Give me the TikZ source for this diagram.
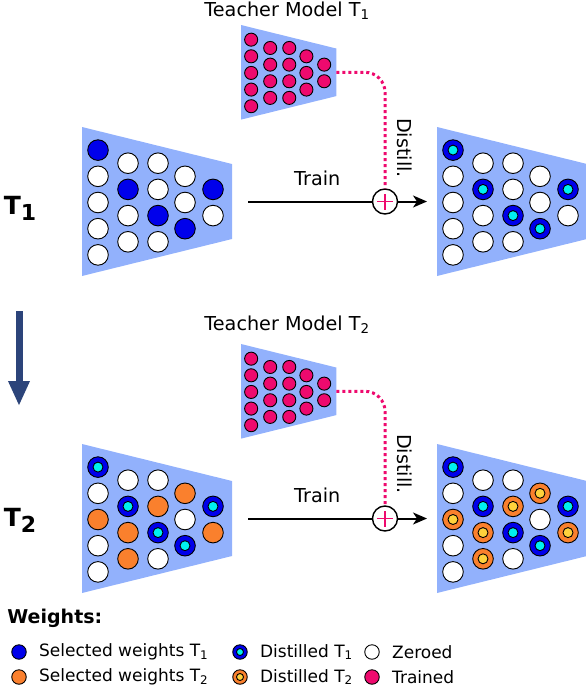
\documentclass[tikz,border=0pt]{standalone}
\usepackage{fontspec}
\setmainfont{DejaVu Sans}
\usetikzlibrary{arrows.meta,positioning}

\definecolor{netfill}{RGB}{146,177,252}
\definecolor{selblue}{RGB}{0,0,235}
\definecolor{selorange}{RGB}{250,128,45}
\definecolor{dcyan}{RGB}{0,240,240}
\definecolor{dyellow}{RGB}{255,210,60}
\definecolor{trainpink}{RGB}{238,10,110}
\definecolor{stepblue}{RGB}{44,68,122}

\tikzset{
  w1/.style={draw=black,fill=selblue},
  w2/.style={draw=black,fill=selorange},
  zero/.style={draw=black,fill=white},
  trained/.style={draw=black,fill=trainpink},
  d1/.style={draw=black,fill=selblue,
    path picture={\draw[fill=dcyan] (path picture bounding box.center) circle (#1);}},
  d1/.default=5,
  d2/.style={draw=black,fill=selorange,
    path picture={\draw[fill=dyellow] (path picture bounding box.center) circle (#1);}},
  d2/.default=5
}

% column x and row offsets of the 18 weights
\def\netx{{16,16,16,16,16,46,46,46,46,76,76,76,76,103,103,103,131,131}}
\def\nety{{-2,-1,0,1,2,-1.5,-0.5,0.5,1.5,-1.5,-0.5,0.5,1.5,-1,0,1,-0.5,0.5}}

\newcommand{\weightnet}[2]{%
  \fill[netfill] (0,0) -- (150,37) -- (150,112) -- (0,149) -- cycle;
  \coordinate (#1-in) at (0,74.5);
  \coordinate (#1-out) at (150,74.5);
  \foreach \s [count=\i from 0] in {#2} {
    \pgfmathsetmacro{\cx}{\netx[\i]}
    \pgfmathsetmacro{\cy}{75.5+26.2*\nety[\i]}
    \draw[\s] (\cx,\cy) circle (10.3);
  }}

\begin{document}
\begin{tikzpicture}[x=1pt,y=-1pt,line width=0.9pt,
  lbl/.style={font=\fontsize{19.2}{21}\selectfont,inner sep=0pt},
  steplbl/.style={font=\fontsize{25}{26}\selectfont\bfseries,inner sep=0pt},
  legtext/.style={font=\fontsize{17}{18}\selectfont,inner sep=0pt,anchor=west},
  leg/.style={circle,minimum size=14.5pt,inner sep=0pt},
  plus/.style={circle,draw,line width=1.4pt,fill=white,minimum size=25pt,inner sep=0pt,
    path picture={\draw[color=trainpink,line width=1.8pt]
      ([xshift=-8pt]path picture bounding box.center) -- ([xshift=8pt]path picture bounding box.center)
      ([yshift=-8pt]path picture bounding box.center) -- ([yshift=8pt]path picture bounding box.center);}},
  train/.style={draw=black,line width=2pt},
  distil/.style={draw=trainpink,line width=3pt,dash pattern=on 3pt off 3pt,rounded corners=20pt},
  steparrow/.style={draw=stepblue,line width=7pt,-{Triangle[length=25pt,width=20pt]}}
]
\useasboundingbox (0,0) rectangle (586,688);

% teachers
\node[lbl] (teach1) at (287,11) {Teacher Model T\textsubscript{1}};
\begin{scope}[shift={(241,25)},scale=0.635]
  \weightnet{t1}{trained,trained,trained,trained,trained,trained,trained,trained,trained,
    trained,trained,trained,trained,trained,trained,trained,trained,trained}
\end{scope}
\node[lbl] (teach2) at (287,325) {Teacher Model T\textsubscript{2}};
\begin{scope}[shift={(241,344)},scale=0.635]
  \weightnet{t2}{trained,trained,trained,trained,trained,trained,trained,trained,trained,
    trained,trained,trained,trained,trained,trained,trained,trained,trained}
\end{scope}

% task 1
\begin{scope}[shift={(82,127)}]
  \weightnet{a1}{w1,zero,zero,zero,zero, zero,w1,zero,zero, zero,zero,w1,zero, zero,zero,w1, w1,zero}
\end{scope}
\begin{scope}[shift={(437,127)}]
  \weightnet{b1}{d1,zero,zero,zero,zero, zero,d1,zero,zero, zero,zero,d1,zero, zero,zero,d1, d1,zero}
\end{scope}

% task 2
\begin{scope}[shift={(82,444)}]
  \weightnet{a2}{d1,zero,w2,zero,zero, zero,d1,w2,w2, zero,w2,d1,zero, w2,zero,d1, d1,w2}
\end{scope}
\begin{scope}[shift={(437,444)}]
  \weightnet{b2}{d1,zero,d2,zero,zero, zero,d1,d2,d2, zero,d2,d1,zero, d2,zero,d1, d1,d2}
\end{scope}

\path (a1-out) ++(153,0) node[plus] (plus1) {};
\path (a2-out) ++(153,0) node[plus] (plus2) {};

\draw[train,shorten <=16pt] (a1-out) -- node[lbl,pos=0.61,above=15pt] (tr1) {Train} (plus1);
\draw[train,shorten >=10pt,-{Stealth[length=14pt,width=12pt,inset=4pt]}] (plus1) -- (b1-in);
\draw[train,shorten <=16pt] (a2-out) -- node[lbl,pos=0.61,above=15pt] (tr2) {Train} (plus2);
\draw[train,shorten >=10pt,-{Stealth[length=14pt,width=12pt,inset=4pt]}] (plus2) -- (b2-in);

\draw[distil] (t1-out) -| (plus1);
\draw[distil] (t2-out) -| (plus2);
\node[lbl,rotate=-90] (dist1) at (405,148) {Distill.};
\node[lbl,rotate=-90] (dist2) at (405,464) {Distill.};

% tasks
\node[steplbl] (task1) at (20,208) {T\raisebox{-6pt}{\fontsize{22}{22}\selectfont 1}};
\node[steplbl] (task2) at (20,520) {T\raisebox{-6pt}{\fontsize{22}{22}\selectfont 2}};
\coordinate (s-top) at (19,311);
\coordinate (s-end) at (19,406);
\draw[steparrow] (s-top) -- (s-end);

% legend
\node[legtext,font=\fontsize{19}{20}\selectfont\bfseries] (wlabel) at (7,618) {Weights:};
\node[leg,w1] (l1) at (19,652) {};
\node[legtext,right=12pt of l1] {Selected weights T\textsubscript{1}};
\node[leg,w2] (l2) at (19,677) {};
\node[legtext,right=12pt of l2] {Selected weights T\textsubscript{2}};
\node[leg,d1=3.5] (l3) at (240,652) {};
\node[legtext,right=12pt of l3] {Distilled T\textsubscript{1}};
\node[leg,d2=3.5] (l4) at (240,677) {};
\node[legtext,right=12pt of l4] {Distilled T\textsubscript{2}};
\node[leg,zero] (l5) at (372,652) {};
\node[legtext,right=12pt of l5] {Zeroed};
\node[leg,trained] (l6) at (372,677) {};
\node[legtext,right=12pt of l6] {Trained};
\end{tikzpicture}
\end{document}
